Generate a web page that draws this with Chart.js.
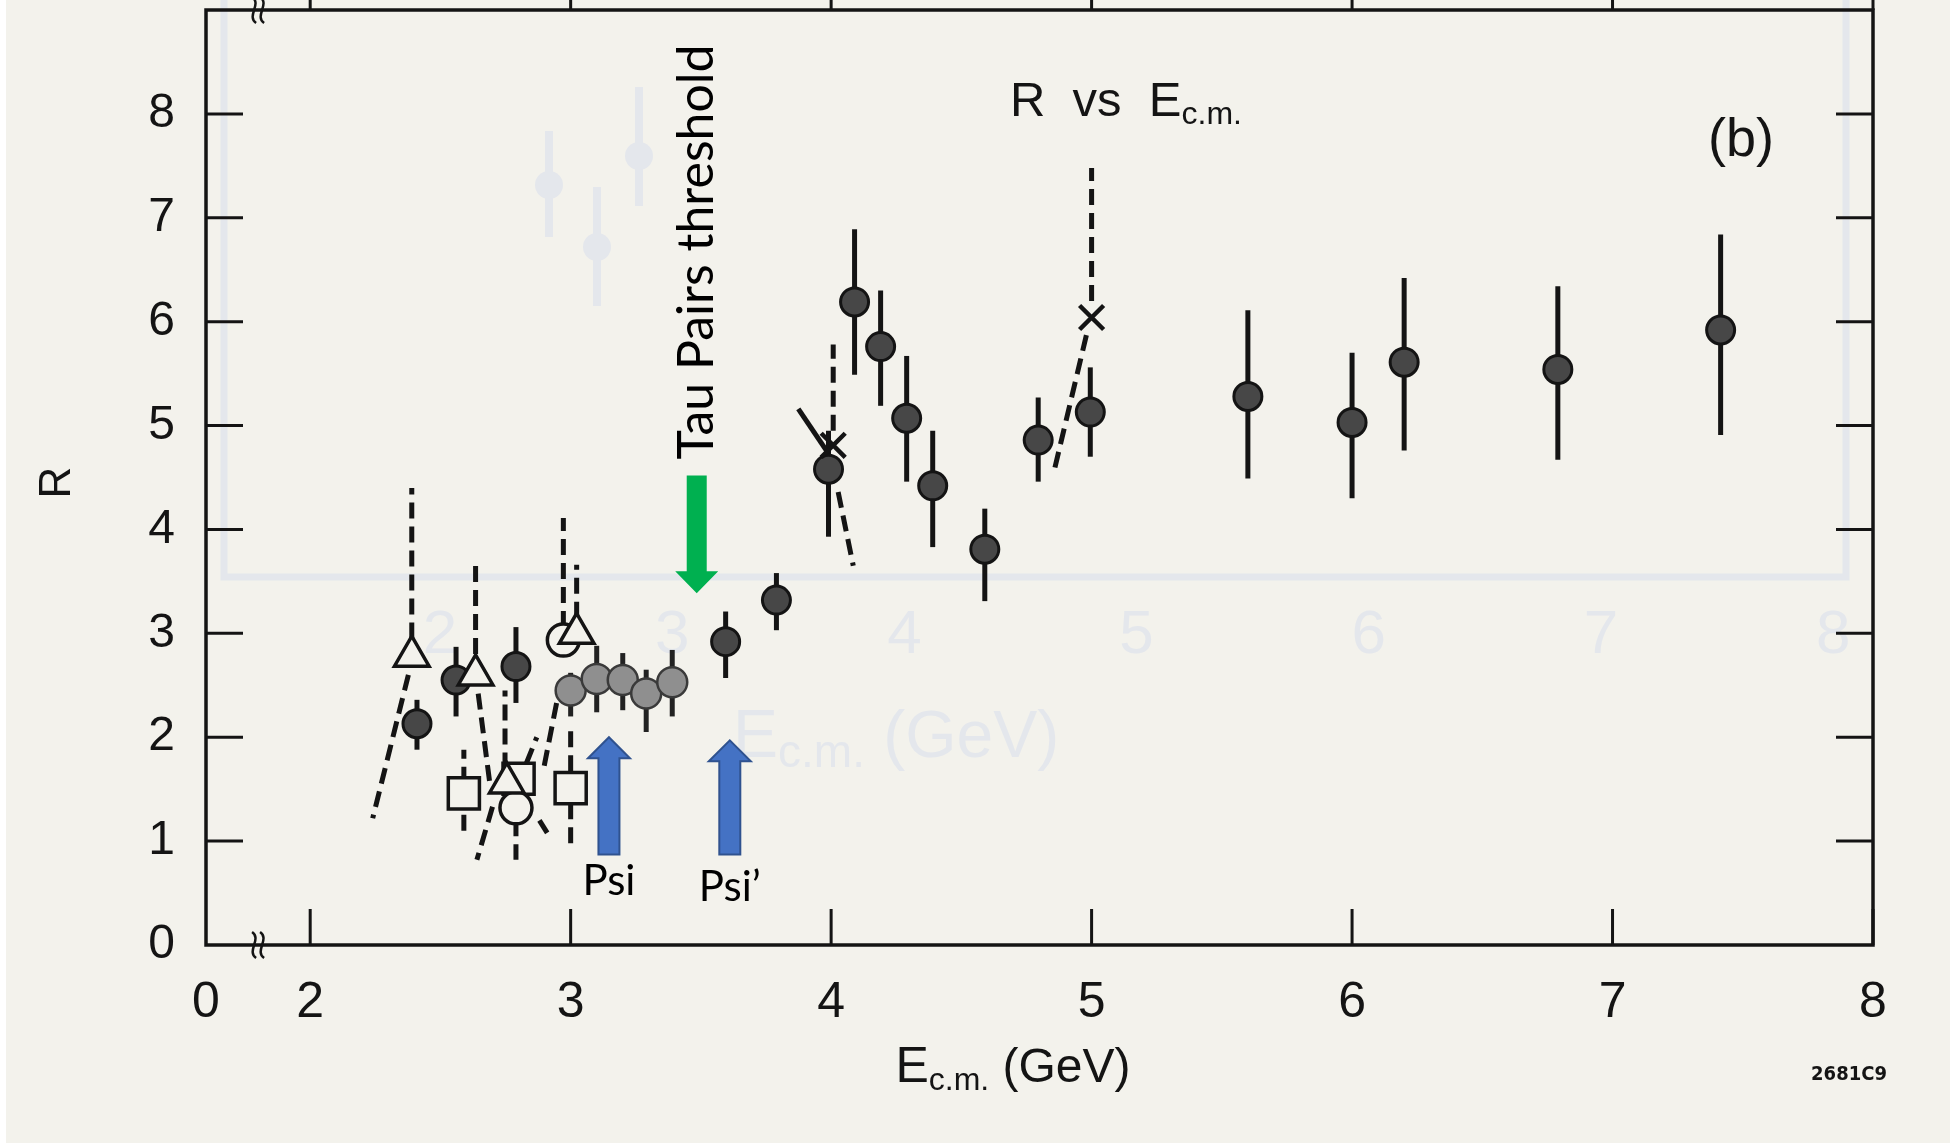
<!DOCTYPE html>
<html>
<head>
<meta charset="utf-8">
<title>R vs Ec.m.</title>
<script src="https://cdn.jsdelivr.net/npm/chart.js@4.4.1/dist/chart.umd.min.js"></script>
<style>
  html, body { margin: 0; padding: 0; background: #fff; }
  canvas { display: block; }
</style>
</head>
<body>
<canvas id="r-chart" width="1958" height="1147"></canvas>
<script>
// R vs E(c.m.) - scanned SLAC plot, redrawn

// Axis ticks
const xTickValues = [1.6, 2, 3, 4, 5, 6, 7, 8];   // 1.6 is the broken-axis "0"
const yTickValues = [0, 1, 2, 3, 4, 5, 6, 7, 8];

// Filled (dark) points with error bars
const darkE  = [2.41, 2.56, 2.79, 3.595, 3.79, 3.99, 4.09, 4.19, 4.29, 4.39, 4.59, 4.795, 4.995, 5.6, 6.0, 6.2, 6.79, 7.415];
const darkR  = [2.13, 2.55, 2.68, 2.92, 3.32, 4.58, 6.19, 5.76, 5.07, 4.42, 3.81, 4.86, 5.13, 5.28, 5.03, 5.61, 5.54, 5.92];
const darkLo = [1.88, 2.20, 2.33, 2.57, 3.03, 3.93, 5.49, 5.19, 4.46, 3.83, 3.31, 4.46, 4.70, 4.49, 4.30, 4.76, 4.67, 4.91];
const darkHi = [2.36, 2.87, 3.06, 3.21, 3.58, 4.95, 6.89, 6.30, 5.67, 4.95, 4.20, 5.27, 5.56, 6.11, 5.70, 6.42, 6.34, 6.84];

// Filled (grey) points around the Psi
const grayE  = [3.0, 3.1, 3.2, 3.29, 3.39];
const grayR  = [2.45, 2.56, 2.55, 2.42, 2.53];
const grayLo = [2.20, 2.24, 2.26, 2.05, 2.20];
const grayHi = [2.62, 2.88, 2.81, 2.65, 2.84];

// Open symbols
const triE  = [2.39, 2.635, 2.755, 3.023];
const triR  = [2.78, 2.60, 1.56, 3.00];
const sqE   = [2.59, 2.80, 3.0];
const sqR   = [1.46, 1.60, 1.51];
const ringE = [2.79, 2.972];
const ringR = [1.32, 2.935];
const crossE = [4.008, 5.0];
const crossR = [4.81, 6.04];

// Dashed error lines / curves (from -> to)
const dashFromE = [2.39, 2.377, 2.635, 2.645, 2.70, 2.59, 2.748, 2.79, 2.83, 2.88, 2.972, 3.023, 3.0, 2.946, 4.008, 4.027, 5.0, 4.98];
const dashFromR = [2.95, 2.60, 2.80, 2.42, 1.33, 1.10, 1.70, 1.20, 1.75, 1.20, 3.06, 3.15, 0.98, 2.33, 4.95, 4.36, 6.20, 5.87];
const dashToE   = [2.39, 2.24, 2.635, 2.69, 2.64, 2.59, 2.748, 2.79, 2.87, 2.91, 2.972, 3.023, 3.0, 2.895, 4.008, 4.085, 5.0, 4.853];
const dashToR   = [4.40, 1.22, 3.69, 1.55, 0.82, 1.88, 2.45, 0.82, 2.00, 1.08, 4.11, 3.66, 2.10, 1.68, 5.78, 3.65, 7.48, 4.53];

// Solid arm of the cross near 4 GeV
const armE = [3.874, 3.99];
const armR = [5.16, 4.73];

// Annotations
const tauE = 3.484, tauFrom = 4.52, tauTo = 3.385;
const psiE = [3.147, 3.611];
const psiTip = [2.0, 1.97];
const psiTail = [0.87, 0.87];
const psiNames = ['Psi', 'Psi\u2019'];

// faint show-through of the facing page
const ghostTicks = ['2', '3', '4', '5', '6', '7', '8'];

const INK = '#141414';
const PAPER = '#f3f2ec';
const GHOST = '#e4e7ec';

const pts = (xs, ys) => xs.map((x, i) => ({ x: x, y: ys[i] }));

const dashedSets = dashFromE.map((x, i) => ({
    type: 'line',
    data: [{ x: x, y: dashFromR[i] }, { x: dashToE[i], y: dashToR[i] }],
    borderColor: INK,
    borderWidth: 5,
    borderDash: [16, 8],
    pointRadius: 0,
    fill: false,
    order: 10,
}));

const datasets = [
    ...dashedSets,
    {
        type: 'line',
        data: pts(armE, armR),
        borderColor: INK,
        borderWidth: 5,
        pointRadius: 0,
        order: 9,
    },
    {
        label: 'dark',
        data: pts(darkE, darkR),
        pointStyle: 'circle',
        pointRadius: 14,
        backgroundColor: '#474747',
        borderColor: INK,
        borderWidth: 3,
        order: 6,
    },
    {
        label: 'gray',
        data: pts(grayE, grayR),
        pointStyle: 'circle',
        pointRadius: 15,
        backgroundColor: '#8f8f8f',
        borderColor: '#3a3a3a',
        borderWidth: 2.5,
        order: 5,
    },
    {
        label: 'squares',
        data: pts(sqE, sqR),
        pointStyle: 'rect',
        pointRadius: 22,
        backgroundColor: PAPER,
        borderColor: INK,
        borderWidth: 3.5,
        order: 4,
    },
    {
        label: 'rings',
        data: pts(ringE, ringR),
        pointStyle: 'circle',
        pointRadius: 16,
        backgroundColor: PAPER,
        borderColor: INK,
        borderWidth: 3.5,
        order: 3,
    },
    {
        label: 'triangles',
        data: pts(triE, triR),
        pointStyle: 'triangle',
        pointRadius: 20,
        backgroundColor: PAPER,
        borderColor: INK,
        borderWidth: 3.5,
        order: 2,
    },
    {
        label: 'crosses',
        data: pts(crossE, crossR),
        pointStyle: 'crossRot',
        pointRadius: 17,
        borderColor: INK,
        borderWidth: 4.5,
        order: 1,
    },
];

// Paper background + faint show-through
const paperPlugin = {
    id: 'paper',
    beforeDraw(chart) {
        const c = chart.ctx;
        c.save();
        c.fillStyle = '#ffffff';
        c.fillRect(0, 0, chart.width, chart.height);
        c.fillStyle = PAPER;
        c.fillRect(6, 0, chart.width - 14, chart.height - 4);

        c.strokeStyle = GHOST;
        c.lineWidth = 7;
        c.beginPath();
        c.moveTo(224, 0);
        c.lineTo(224, 577);
        c.lineTo(1846, 577);
        c.lineTo(1846, 0);
        c.stroke();
        // ghost points
        c.lineWidth = 8;
        [[549, 185, 131, 237], [597, 247, 187, 306], [639, 156, 87, 206]].forEach(g => {
            c.beginPath();
            c.moveTo(g[0], g[2]);
            c.lineTo(g[0], g[3]);
            c.stroke();
            c.beginPath();
            c.arc(g[0], g[1], 14, 0, Math.PI * 2);
            c.fillStyle = GHOST;
            c.fill();
        });
        c.fillStyle = GHOST;
        c.font = '62px "Liberation Sans"';
        c.textAlign = 'center';
        c.textBaseline = 'middle';
        ghostTicks.forEach((t, i) => c.fillText(t, 440 + i * 232.2, 636));
        pieceText(c, 896, 757, [
            ['E', '68px "Liberation Sans"', 0],
            ['c.m.', '46px "Liberation Sans"', 10],
            [' (GeV)', '66px "Liberation Sans"', 0],
        ], 'center');
        c.restore();
    }
};

function drawBreak(c, x, y) {
    c.save();
    c.strokeStyle = INK;
    c.lineWidth = 2.5;
    [-4, 4].forEach(dx => {
        c.beginPath();
        c.moveTo(x + dx - 2, y - 13);
        c.bezierCurveTo(x + dx + 8, y - 6, x + dx - 8, y + 6, x + dx + 2, y + 13);
        c.stroke();
    });
    c.restore();
}

// Frame, inward ticks, error bars
const framePlugin = {
    id: 'frame',
    beforeDatasetsDraw(chart) {
        const c = chart.ctx;
        const a = chart.chartArea;
        const xs = chart.scales.x;
        const ys = chart.scales.y;
        c.save();
        c.strokeStyle = INK;
        c.lineWidth = 3.5;
        c.strokeRect(a.left, a.top, a.right - a.left, a.bottom - a.top);

        c.lineWidth = 3;
        xs.ticks.forEach(t => {
            if (t.value < 2) return;
            const px = xs.getPixelForValue(t.value);
            c.beginPath();
            c.moveTo(px, a.bottom);
            c.lineTo(px, a.bottom - 36);
            c.moveTo(px, a.top);
            c.lineTo(px, a.top - 10);
            c.stroke();
        });
        ys.ticks.forEach(t => {
            if (t.value < 1) return;
            const py = ys.getPixelForValue(t.value);
            c.beginPath();
            c.moveTo(a.left, py);
            c.lineTo(a.left + 37, py);
            c.moveTo(a.right, py);
            c.lineTo(a.right - 37, py);
            c.stroke();
        });
        drawBreak(c, xs.getPixelForValue(1.8), a.bottom);
        drawBreak(c, xs.getPixelForValue(1.8), a.top);

        // error bars
        c.lineWidth = 5;
        c.lineCap = 'butt';
        const bars = (es, lo, hi, col) => {
            c.strokeStyle = col;
            es.forEach((e, i) => {
                const px = xs.getPixelForValue(e);
                c.beginPath();
                c.moveTo(px, ys.getPixelForValue(lo[i]));
                c.lineTo(px, ys.getPixelForValue(hi[i]));
                c.stroke();
            });
        };
        bars(darkE, darkLo, darkHi, INK);
        bars(grayE, grayLo, grayHi, '#222');
        c.restore();
    }
};

function blockArrow(c, x, yTail, yTip, shaftW, headW, headLen, fill, stroke) {
    const dir = yTip < yTail ? -1 : 1;
    const yBase = yTip - dir * headLen;
    c.beginPath();
    c.moveTo(x - shaftW / 2, yTail);
    c.lineTo(x - shaftW / 2, yBase);
    c.lineTo(x - headW / 2, yBase);
    c.lineTo(x, yTip);
    c.lineTo(x + headW / 2, yBase);
    c.lineTo(x + shaftW / 2, yBase);
    c.lineTo(x + shaftW / 2, yTail);
    c.closePath();
    c.fillStyle = fill;
    c.fill();
    if (stroke) {
        c.strokeStyle = stroke;
        c.lineWidth = 2;
        c.stroke();
    }
}

// text made of [string, font, baseline shift] pieces
function pieceText(c, x, y, pieces, align) {
    let total = 0;
    pieces.forEach(p => { c.font = p[1]; total += c.measureText(p[0]).width; });
    let cx = align === 'center' ? x - total / 2 : x;
    c.textAlign = 'left';
    c.textBaseline = 'alphabetic';
    pieces.forEach(p => {
        c.font = p[1];
        c.fillText(p[0], cx, y + p[2]);
        cx += c.measureText(p[0]).width;
    });
}

const notesPlugin = {
    id: 'notes',
    afterDatasetsDraw(chart) {
        const c = chart.ctx;
        const xs = chart.scales.x;
        const ys = chart.scales.y;
        c.save();

        // Tau threshold arrow and label
        const tx = xs.getPixelForValue(tauE);
        blockArrow(c, tx, ys.getPixelForValue(tauFrom), ys.getPixelForValue(tauTo), 20, 43, 22, '#00b050', null);
        c.save();
        c.translate(tx + 16, ys.getPixelForValue(tauFrom) - 16);
        c.rotate(-Math.PI / 2);
        c.fillStyle = '#000';
        c.font = '50px Lato';
        c.textAlign = 'left';
        c.textBaseline = 'alphabetic';
        c.fillText('Tau Pairs threshold', 0, 0);
        c.restore();

        // Psi arrows
        psiE.forEach((e, i) => {
            const px = xs.getPixelForValue(e);
            blockArrow(c, px, ys.getPixelForValue(psiTail[i]), ys.getPixelForValue(psiTip[i]), 21, 42, 21, '#4472c4', '#2f528f');
            c.fillStyle = '#000';
            c.font = '42px Lato';
            c.textAlign = 'center';
            c.textBaseline = 'alphabetic';
            c.fillText(psiNames[i], px, ys.getPixelForValue(psiTail[i]) + 40 + i * 6);
        });

        // labels in the plot
        c.fillStyle = INK;
        pieceText(c, 1010, 116, [
            ['R  vs  E', '49px "Liberation Sans"', 0],
            ['c.m.', '32px "Liberation Sans"', 8],
        ], 'left');
        c.font = '54px "Liberation Sans"';
        c.textAlign = 'left';
        c.fillText('(b)', 1708, 156);

        // axis titles
        pieceText(c, 1013, 1082, [
            ['E', '50px "Liberation Sans"', 0],
            ['c.m.', '32px "Liberation Sans"', 8],
            [' (GeV)', '48px "Liberation Sans"', 0],
        ], 'center');
        c.save();
        c.translate(70, ys.getPixelForValue(4.5) + 5);
        c.rotate(-Math.PI / 2);
        c.font = '44px "Liberation Sans"';
        c.textAlign = 'center';
        c.textBaseline = 'alphabetic';
        c.fillText('R', 0, 0);
        c.restore();

        c.font = 'bold 20px "DejaVu Sans Condensed", "DejaVu Sans"';
        c.textAlign = 'center';
        c.fillText('2681C9', 1849, 1080);
        c.restore();
    }
};

Chart.defaults.font.family = '"Liberation Sans", Arial, sans-serif';

new Chart(document.getElementById('r-chart').getContext('2d'), {
    type: 'scatter',
    data: { datasets: datasets },
    options: {
        responsive: false,
        animation: false,
        events: [],
        layout: { autoPadding: false, padding: { left: 0, right: 85, top: 10, bottom: 0 } },
        plugins: {
            legend: { display: false },
            tooltip: { enabled: false },
        },
        scales: {
            x: {
                type: 'linear',
                min: 1.6,
                max: 8,
                afterBuildTicks: scale => { scale.ticks = xTickValues.map(v => ({ value: v })); },
                afterFit: scale => {
                    scale.height = 202;
                    scale.paddingLeft = 0;
                    scale.paddingRight = 0;
                },
                grid: { display: false, drawTicks: false },
                border: { display: false },
                ticks: {
                    autoSkip: false,
                    maxRotation: 0,
                    padding: 28,
                    color: INK,
                    font: { size: 50 },
                    callback: v => (v === 1.6 ? '0' : String(v)),
                },
            },
            y: {
                type: 'linear',
                min: 0,
                max: 9,
                afterBuildTicks: scale => { scale.ticks = yTickValues.map(v => ({ value: v })); },
                afterFit: scale => {
                    scale.width = 206;
                    scale.paddingTop = 0;
                    scale.paddingBottom = 0;
                },
                grid: { display: false, drawTicks: false },
                border: { display: false },
                ticks: {
                    padding: 31,
                    color: INK,
                    font: { size: 48 },
                },
            },
        },
    },
    plugins: [paperPlugin, framePlugin, notesPlugin],
});
</script>
</body>
</html>
